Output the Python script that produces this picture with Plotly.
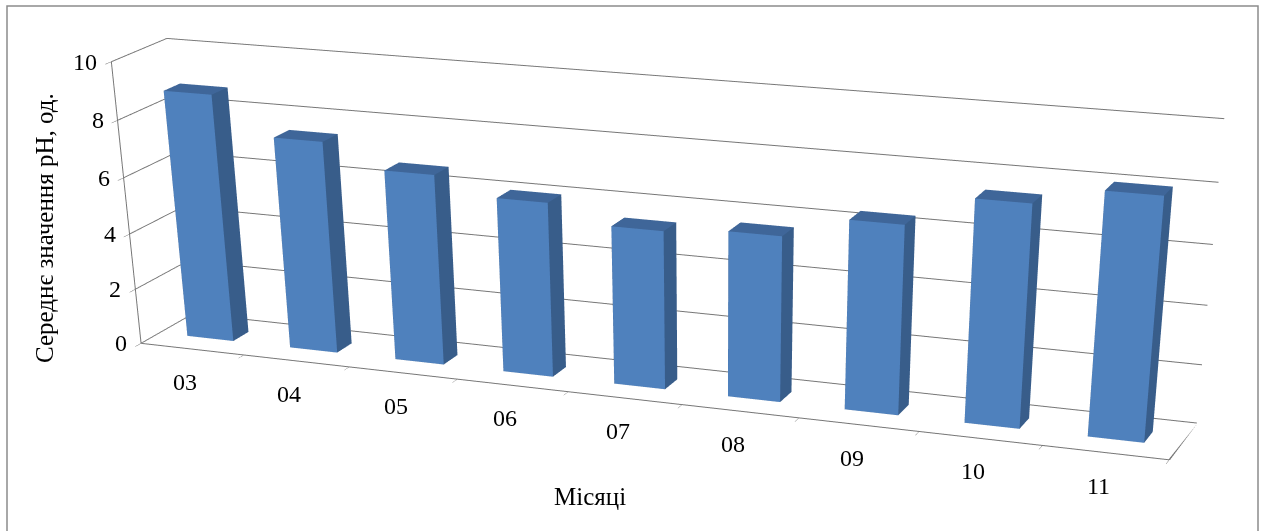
import numpy as np
import plotly.graph_objects as go

# ---------------- data ----------------
months = ["03", "04", "05", "06", "07", "08", "09", "10", "11"]
ph_values = [8.8, 7.5, 6.7, 6.1, 5.5, 5.7, 6.45, 7.5, 8.1]
value_ticks = [0, 2, 4, 6, 8, 10]
y_title = "Середнє значення pH, од."
x_title = "Місяці"

# ---------------- style ----------------
FONT = "Liberation Serif, Times New Roman, serif"
GRID = "#767676"
FRONT, SIDE, TOP = "#4F81BD", "#385D8A", "#3F6699"

# ---------------- view (Excel-like 3D camera) ----------------
FIG_W = 1265
FOCAL = 3000.0                        # px focal length wanted
VP_H = 2 * FOCAL * np.tan(np.pi / 8)  # plotly uses fovy = 45deg
FIG_H = int(round(VP_H))
ASP = (3.52, 0.36, 0.903)
DIST = 9.95
YAW, PITCH, ROLL = np.radians(22.0), np.radians(15.0), 0.018
TARGET = (644.0, 239.0)               # where the box centre should appear

X_RANGE = [-0.5, len(months) - 0.5]
Y_RANGE = [0.0, 1.0]
Z_RANGE = [0, 10]
BAR_W = 0.45
BAR_Y = (0.35, 0.65)

# ---------------- bars as a mesh ----------------
vx, vy, vz, ti, tj, tk, fcol = [], [], [], [], [], [], []
quads = [((0, 1, 5, 4), FRONT), ((1, 2, 6, 5), SIDE), ((4, 5, 6, 7), TOP),
         ((3, 2, 6, 7), SIDE), ((0, 3, 7, 4), SIDE), ((0, 1, 2, 3), SIDE)]
for n, v in enumerate(ph_values):
    x0, x1 = n - BAR_W / 2, n + BAR_W / 2
    y0, y1 = BAR_Y
    base = len(vx)
    for (xx, yy, zz) in [(x0, y0, 0), (x1, y0, 0), (x1, y1, 0), (x0, y1, 0),
                         (x0, y0, v), (x1, y0, v), (x1, y1, v), (x0, y1, v)]:
        vx.append(xx); vy.append(yy); vz.append(zz)
    for (a, b, c, d), col in quads:
        ti += [base + a, base + a]
        tj += [base + b, base + c]
        tk += [base + c, base + d]
        fcol += [col, col]

# ---------------- camera ----------------
E = DIST * np.array([np.sin(YAW) * np.cos(PITCH), -np.cos(YAW) * np.cos(PITCH), np.sin(PITCH)])
d0 = -E / np.linalg.norm(E)
du, dv = TARGET[0] - FIG_W / 2, TARGET[1] - VP_H / 2
du0 = du * np.cos(ROLL) - dv * np.sin(ROLL)
dv0 = du * np.sin(ROLL) + dv * np.cos(ROLL)
a_off, b_off = du0 / FOCAL, -dv0 / FOCAL
tphi = -d0[2] / np.hypot(d0[0], d0[1])
theta = np.arctan((b_off + tphi) / (1 - b_off * tphi))
beta = np.arctan(a_off / (np.cos(theta) + b_off * np.sin(theta)))
h0 = d0[:2] / np.hypot(d0[0], d0[1])
hd = np.array([h0[0] * np.cos(beta) - h0[1] * np.sin(beta),
               h0[0] * np.sin(beta) + h0[1] * np.cos(beta)])
F = np.array([np.cos(theta) * hd[0], np.cos(theta) * hd[1], -np.sin(theta)])
C = E + F * DIST
R = np.cross(F, [0, 0, 1]); R /= np.linalg.norm(R)
U = np.cross(R, F)
UP = np.cos(ROLL) * U + np.sin(ROLL) * R

fig = go.Figure()
fig.add_trace(go.Mesh3d(
    x=vx, y=vy, z=vz, i=ti, j=tj, k=tk, facecolor=fcol, flatshading=True,
    lighting=dict(ambient=1.0, diffuse=0.0, specular=0.0, roughness=1.0, fresnel=0.0),
    hoverinfo="skip", showscale=False))
fig.add_trace(go.Scatter3d(
    x=[X_RANGE[1], X_RANGE[1]], y=Y_RANGE, z=[0, 0], mode="lines",
    line=dict(color=GRID, width=3), hoverinfo="skip", showlegend=False))

scene_ann = []
for n, m in enumerate(months):
    scene_ann.append(dict(x=n, y=0, z=0, text=m, showarrow=False,
                          xshift=-7, yshift=-33,
                          font=dict(family=FONT, size=24, color="black")))
for t in value_ticks:
    scene_ann.append(dict(x=X_RANGE[0], y=0, z=t, text=str(t), showarrow=False,
                          xanchor="right", xshift=-12,
                          font=dict(family=FONT, size=24, color="black")))

axis_common = dict(showspikes=False, showbackground=False, zeroline=False,
                   title=dict(text=""))
fig.update_layout(
    width=FIG_W, height=FIG_H, autosize=False,
    margin=dict(l=0, r=0, t=0, b=0),
    paper_bgcolor="white", showlegend=False, hovermode=False,
    scene=dict(
        domain=dict(x=[0, 1], y=[0, 1]),
        bgcolor="white",
        aspectmode="manual",
        aspectratio=dict(x=ASP[0], y=ASP[1], z=ASP[2]),
        camera=dict(eye=dict(x=E[0], y=E[1], z=E[2]),
                    center=dict(x=C[0], y=C[1], z=C[2]),
                    up=dict(x=UP[0], y=UP[1], z=UP[2]),
                    projection=dict(type="perspective")),
        xaxis=dict(range=X_RANGE, tickvals=[k - 0.5 for k in range(len(months) + 1)],
                   showticklabels=False, ticks="outside", ticklen=8, tickcolor=GRID,
                   showline=True, linecolor=GRID, linewidth=2, showgrid=False, **axis_common),
        yaxis=dict(range=Y_RANGE, showgrid=False, showline=False, ticks="",
                   showticklabels=False, **axis_common),
        zaxis=dict(range=Z_RANGE, tickvals=value_ticks, showticklabels=False,
                   ticks="outside", ticklen=8, tickcolor=GRID,
                   showline=True, linecolor=GRID, linewidth=2,
                   showgrid=True, gridcolor=GRID, gridwidth=2, **axis_common),
        annotations=scene_ann,
    ),
    annotations=[
        dict(x=45 / FIG_W, y=1 - 228 / FIG_H, xref="paper", yref="paper",
             xanchor="center", yanchor="middle",
             text=y_title, textangle=-90, showarrow=False,
             font=dict(family=FONT, size=25, color="black")),
        dict(x=590 / FIG_W, y=1 - 497 / FIG_H, xref="paper", yref="paper",
             xanchor="center", yanchor="middle",
             text=x_title, showarrow=False,
             font=dict(family=FONT, size=25, color="black")),
    ],
    shapes=[dict(type="rect", xref="paper", yref="paper",
                 x0=7 / FIG_W, x1=1258 / FIG_W, y0=1 - 600 / FIG_H, y1=1 - 6 / FIG_H,
                 line=dict(color="#8C8C8C", width=1.5), fillcolor="rgba(0,0,0,0)")],
)

fig.write_html("out.html", config={"displayModeBar": False})
